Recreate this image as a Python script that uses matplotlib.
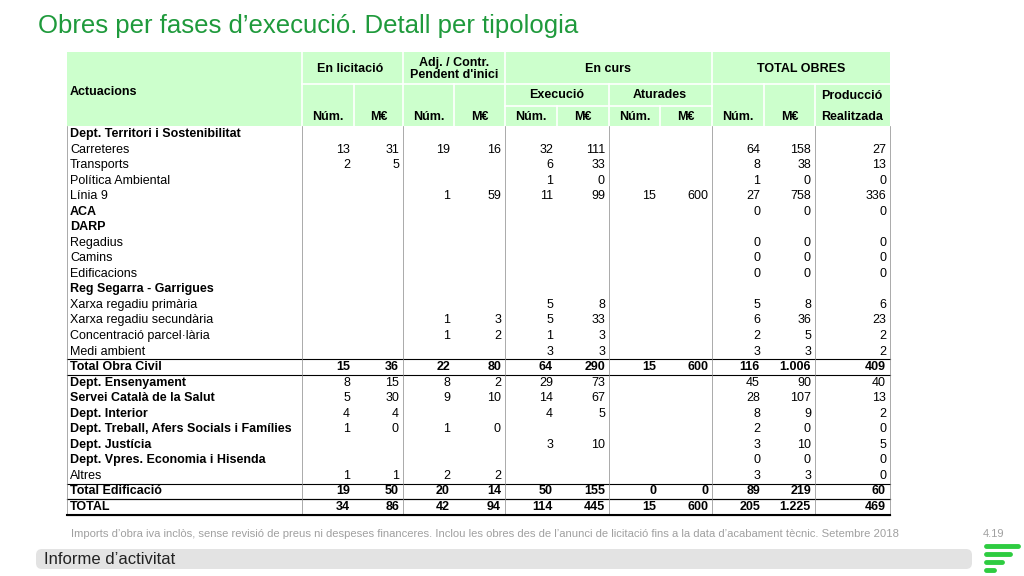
import matplotlib
matplotlib.use("Agg")
import matplotlib.pyplot as plt
from matplotlib.patches import Rectangle, FancyBboxPatch

plt.rcParams["font.family"] = "Liberation Sans"

categories = ["Dept. Territori i Sostenibilitat", "Carreteres", "Transports", "Política Ambiental", "Línia 9",
              "ACA", "DARP", "Regadius", "Camins", "Edificacions", "Reg Segarra - Garrigues",
              "Xarxa regadiu primària", "Xarxa regadiu secundària", "Concentració parcel·lària", "Medi ambient",
              "Total Obra Civil", "Dept. Ensenyament", "Servei Català de la Salut", "Dept. Interior",
              "Dept. Treball, Afers Socials i Famílies", "Dept. Justícia", "Dept. Vpres. Economia i Hisenda",
              "Altres", "Total Edificació", "TOTAL"]
bold_rows = [0, 5, 6, 10, 15, 16, 17, 18, 19, 20, 21, 23, 24]
total_rows = [15, 23, 24]
N = ""
lic_num = [N, "13", "2", N, N, N, N, N, N, N, N, N, N, N, N, "15", "8", "5", "4", "1", N, N, "1", "19", "34"]
lic_me = [N, "31", "5", N, N, N, N, N, N, N, N, N, N, N, N, "36", "15", "30", "4", "0", N, N, "1", "50", "86"]
adj_num = [N, "19", N, N, "1", N, N, N, N, N, N, N, "1", "1", N, "22", "8", "9", N, "1", N, N, "2", "20", "42"]
adj_me = [N, "16", N, N, "59", N, N, N, N, N, N, N, "3", "2", N, "80", "2", "10", N, "0", N, N, "2", "14", "94"]
exe_num = [N, "32", "6", "1", "11", N, N, N, N, N, N, "5", "5", "1", "3", "64", "29", "14", "4", N, "3", N, N, "50", "114"]
exe_me = [N, "111", "33", "0", "99", N, N, N, N, N, N, "8", "33", "3", "3", "290", "73", "67", "5", N, "10", N, N, "155", "445"]
atu_num = [N, N, N, N, "15", N, N, N, N, N, N, N, N, N, N, "15", N, N, N, N, N, N, N, "0", "15"]
atu_me = [N, N, N, N, "600", N, N, N, N, N, N, N, N, N, N, "600", N, N, N, N, N, N, N, "0", "600"]
tot_num = [N, "64", "8", "1", "27", "0", N, "0", "0", "0", N, "5", "6", "2", "3", "116", "45", "28", "8", "2", "3", "0", "3", "89", "205"]
tot_me = [N, "158", "38", "0", "758", "0", N, "0", "0", "0", N, "8", "36", "5", "3", "1.006", "90", "107", "9", "0", "10", "0", "3", "219", "1.225"]
produccio = [N, "27", "13", "0", "336", "0", N, "0", "0", "0", N, "6", "23", "2", "2", "409", "40", "13", "2", "0", "5", "0", "0", "60", "469"]
columns = [lic_num, lic_me, adj_num, adj_me, exe_num, exe_me, atu_num, atu_me, tot_num, tot_me, produccio]

fig = plt.figure(figsize=(10.24, 5.76), dpi=100)
ax = fig.add_axes([0, 0, 1, 1])
ax.set_xlim(0, 1024); ax.set_ylim(576, 0); ax.axis("off")

GREEN = "#ccffcc"
xs = [67, 302, 354, 403, 454, 505, 557, 609, 660, 712, 764, 815, 890]
top, r1, r2, r3 = 52, 84, 106, 126
ax.add_patch(Rectangle((67, top), 890 - 67, r3 - top, color=GREEN, lw=0))
wl = dict(color="white", lw=1.2)
for x in [302, 403, 505, 712]:
    ax.plot([x, x], [top, r3], **wl)
for x in [354, 454, 609, 764, 815]:
    ax.plot([x, x], [r1, r3], **wl)
for x in [557, 660]:
    ax.plot([x, x], [r2, r3], **wl)
ax.plot([302, 890], [r1, r1], **wl)
ax.plot([505, 712], [r2, r2], **wl)

fs = 9
hb = dict(fontsize=fs, fontweight="bold", ha="center", va="center")
ax.text(70, 92, "Actuacions", fontsize=fs, fontweight="bold", va="center")
ax.text(350, 69, "En licitació", **hb)
ax.text(454, 69, "Adj. / Contr.\nPendent d'inici", linespacing=1.1, **hb)
ax.text(608, 69, "En curs", **hb)
ax.text(801, 69, "TOTAL OBRES", **hb)
ax.text(557, 95, "Execució", **hb)
ax.text(660, 95, "Aturades", **hb)
ax.text(852, 96, "Producció", **hb)
ax.text(852, 117, "Realitzada", **hb)
for i in range(10):
    ax.text((xs[i + 1] + xs[i + 2]) / 2, 117, "Núm." if i % 2 == 0 else "M€", **hb)

y0, dy = 134, 15.54
for j, cat in enumerate(categories):
    y = y0 + j * dy
    b = "bold" if j in bold_rows else "normal"
    ax.text(70, y, cat, fontsize=fs, fontweight=b, va="center")
    nb = "bold" if j in total_rows else "normal"
    for c, col in enumerate(columns):
        if col[j]:
            ax.text(xs[c + 2] - 4, y, col[j], fontsize=fs, fontweight=nb, va="center", ha="right")
    if j in total_rows:
        ax.plot([67, 890], [y - dy / 2, y - dy / 2], color="black", lw=0.8)
        ax.plot([67, 890], [y + dy / 2, y + dy / 2], color="black", lw=0.8)

bottom = y0 + 24 * dy + dy / 2
for x in [67, 302, 403, 505, 609, 712, 815, 890]:
    ax.plot([x, x], [r3, bottom], color="#888888", lw=0.5)
ax.plot([67, 890], [bottom, bottom], color="black", lw=1.5)

ax.text(38, 26, "Obres per fases d’execució. Detall per tipologia", fontsize=18.5, color="#1f9a3c", va="center")
ax.text(71, 534, "Imports d’obra iva inclòs, sense revisió de preus ni despeses financeres. Inclou les obres des de l’anunci de licitació fins a la data d’acabament tècnic. Setembre 2018",
        fontsize=8.1, color="#a0a0a0", va="center")
ax.text(1004, 534, "4.19", fontsize=8, color="#a0a0a0", va="center", ha="right")
ax.add_patch(FancyBboxPatch((36, 549), 936, 20, boxstyle="round,pad=0,rounding_size=6", color="#e3e3e3", lw=0))
ax.text(44, 560, "Informe d’activitat", fontsize=12, color="#222222", va="center")
for k, (x0, w) in enumerate([(986, 32), (986, 24), (986, 16), (986, 8)]):
    ax.plot([x0, x0 + w], [546 + k * 8, 546 + k * 8], color="#2ecc40", lw=3.5, solid_capstyle="round")

fig.savefig("out.png", dpi=100)
